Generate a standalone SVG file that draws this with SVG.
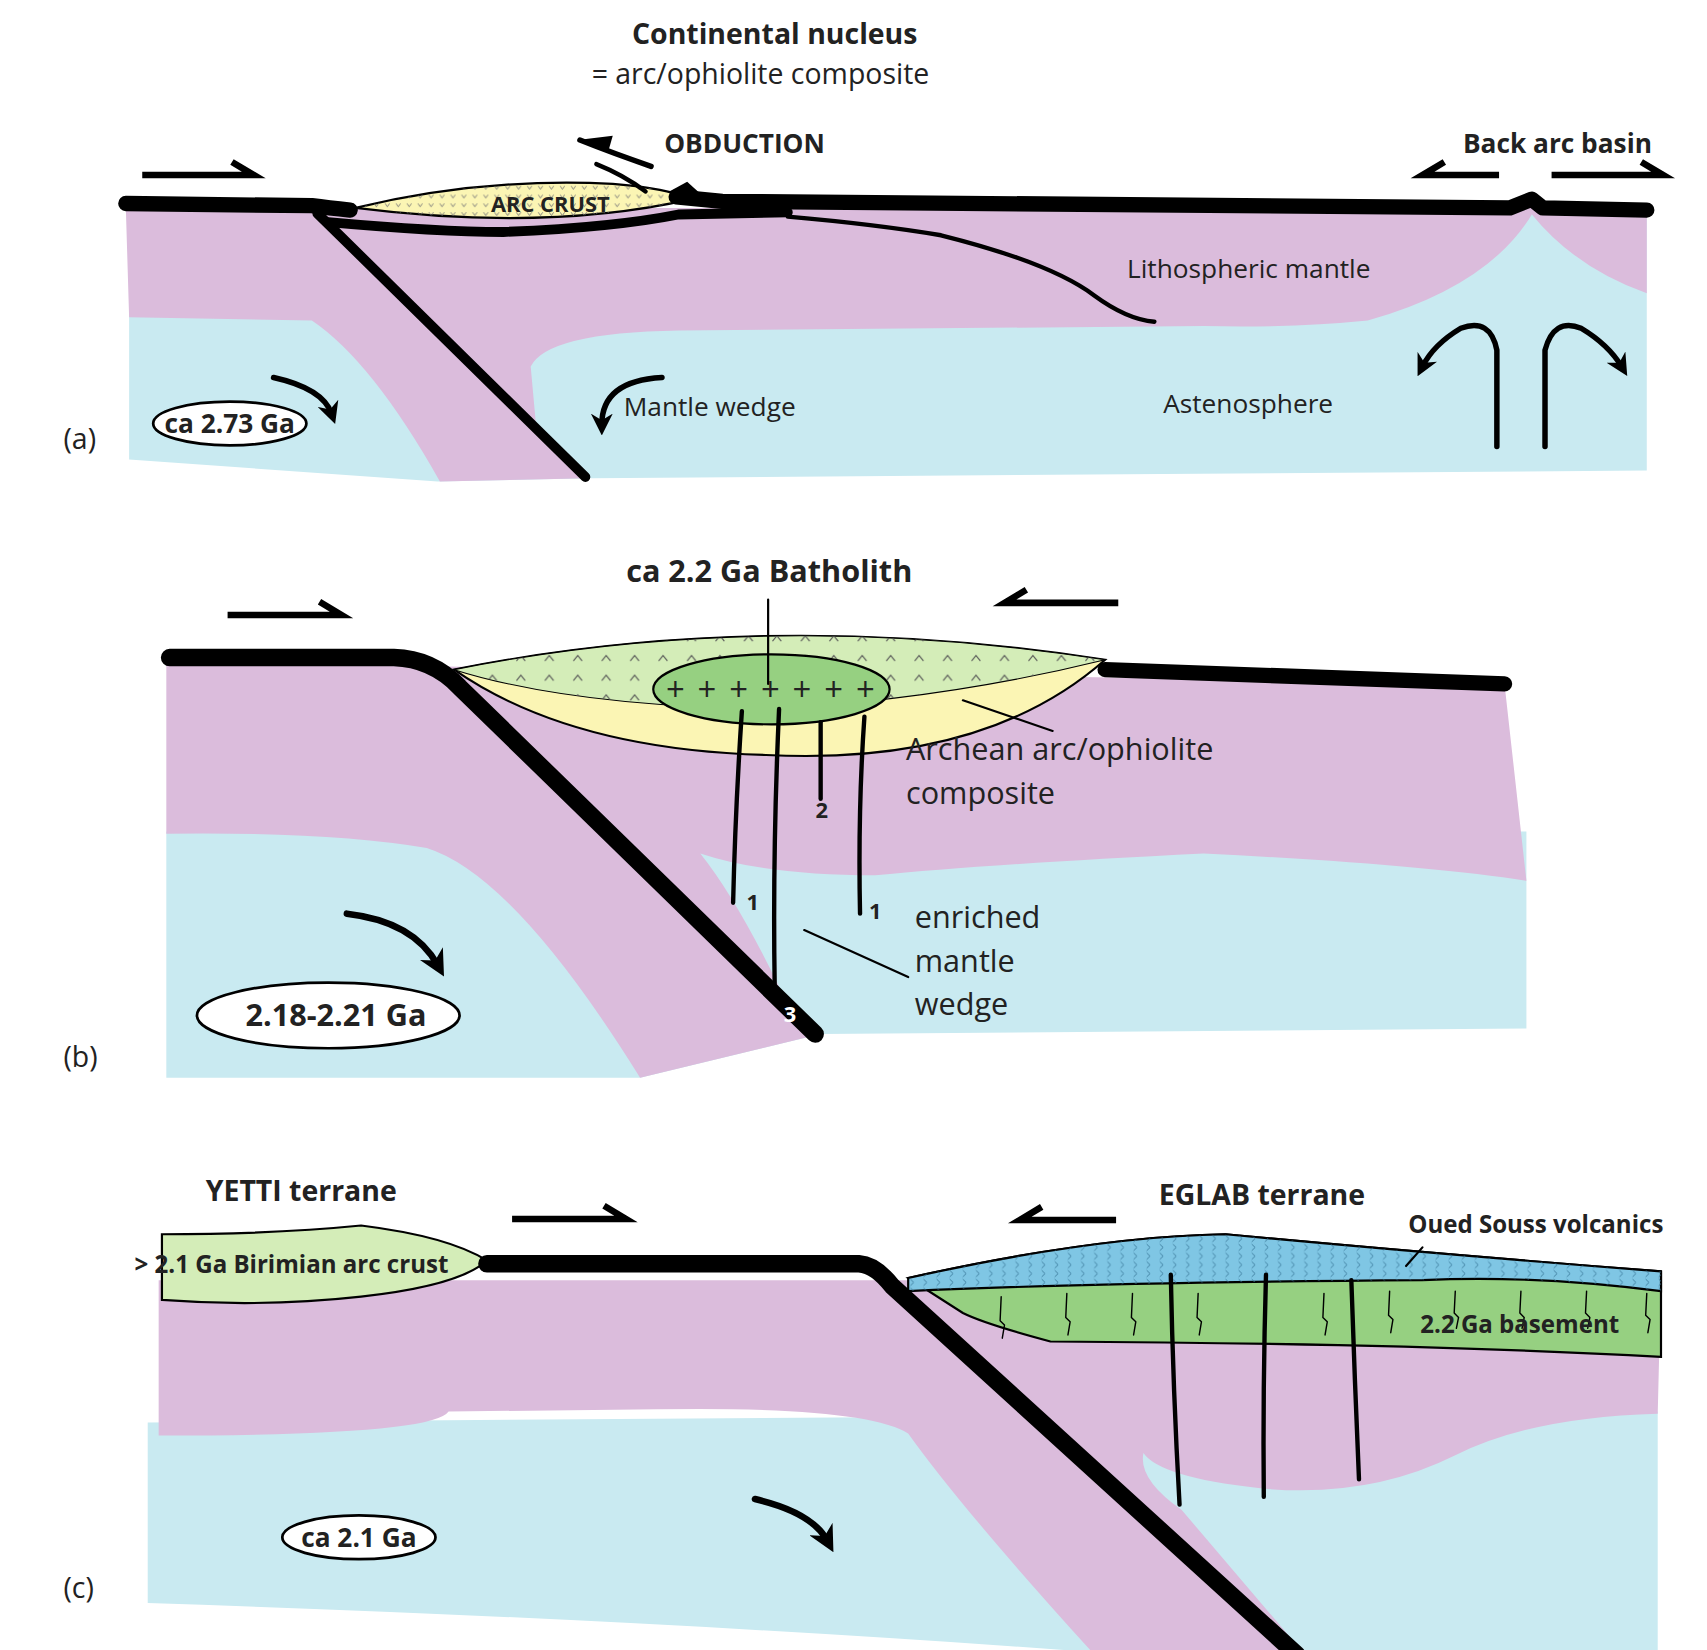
<svg xmlns="http://www.w3.org/2000/svg" width="1707" height="1650" viewBox="0 0 1707 1650">
<style>
.t{font-family:"Open Sans","Liberation Sans",sans-serif;fill:#222}
.b{font-weight:bold}
.pl{fill:none;stroke:#000;stroke-linecap:round;stroke-linejoin:round}
.hp{fill:none;stroke:#000;stroke-width:6;stroke-linejoin:miter;stroke-linecap:butt}
.pink{fill:#dbbcdc}
.blue{fill:#c9eaf1}
</style>
<defs>
<marker id="ah" viewBox="0 0 10 10" refX="5" refY="5" markerWidth="4" markerHeight="4" orient="auto"><path d="M0,0 L10,5 L0,10 L3,5 Z" fill="#000"/></marker>
<pattern id="vv" width="10" height="8" patternUnits="userSpaceOnUse"><path d="M2,2 L4,5 L6,2" fill="none" stroke="#777" stroke-width="0.8"/></pattern>
<pattern id="hat" width="26" height="18" patternUnits="userSpaceOnUse"><path d="M4,10 L8,5 L12,10" fill="none" stroke="#555" stroke-width="1"/></pattern>
<pattern id="vol" width="12" height="8" patternUnits="userSpaceOnUse"><path d="M4,1 L7,4 L4,7" fill="none" stroke="#3a7a9a" stroke-width="0.8"/></pattern>
</defs>
<g transform="scale(1.0942)">
<!-- Panel a -->
<g id="panel-a">
<path class="blue" d="M118,285 L1300,265 L1300,196 L1505,196 L1505,430 L540,437 L400,440 L118,420 Z"/>
<path class="pink" d="M115,190 L1505,190 L1505,268 Q1440,245 1400,196 Q1360,262 1250,293 Q1180,300 1100,298 L620,302 Q500,304 485,335 L490,390 L538,437 L402,440 Q340,330 285,293 L118,290 Z"/>
<path d="M325,190 Q440,162 560,168 Q610,172 632,182 Q500,212 325,190 Z" fill="#fbf5b4" stroke="#000" stroke-width="2"/>
<path d="M325,190 Q440,162 560,168 Q610,172 632,182 Q500,212 325,190 Z" fill="url(#vv)"/>
<path class="pl" d="M115,186 L285,188 Q300,190 320,192" stroke-width="14"/>
<path class="pl" d="M618,180 L660,184 L1380,190 L1400,182 L1410,190 L1505,192" stroke-width="14"/>
<path class="pl" d="M290,195 L535,436" stroke-width="9"/>
<path class="pl" d="M300,203 Q400,212 460,212 Q560,208 620,196 L720,194" stroke-width="9"/>
<path class="pl" d="M720,198 Q800,205 860,215 Q960,240 1000,270 Q1030,292 1055,294" stroke-width="4"/>
<path d="M610,176 L628,166 L650,186 Z" fill="#000"/>
</g>
<g id="labels-a">
<text class="t b" x="708" y="40" font-size="26" text-anchor="middle">Continental nucleus</text>
<text class="t" x="695" y="77" font-size="26" text-anchor="middle">= arc/ophiolite composite</text>
<text class="t b" x="607" y="140" font-size="24">OBDUCTION</text>
<text class="t b" x="1337" y="140" font-size="24">Back arc basin</text>
<text class="t b" x="503" y="194" font-size="20" text-anchor="middle">ARC CRUST</text>
<text class="t" x="1030" y="254" font-size="24">Lithospheric mantle</text>
<text class="t" x="1063" y="377" font-size="24">Astenosphere</text>
<text class="t" x="570" y="380" font-size="24">Mantle wedge</text>
<text class="t" x="58" y="410" font-size="26">(a)</text>
<ellipse cx="210" cy="387" rx="70" ry="20" fill="#fff" stroke="#000" stroke-width="2.5"/>
<text class="t b" x="210" y="396" font-size="24" text-anchor="middle">ca 2.73 Ga</text>
</g>
<!-- Panel b -->
<g id="panel-b">
<path class="blue" d="M152,760 L1395,760 L1395,940 L750,945 L585,985 L152,985 Z"/>
<path class="pink" d="M152,605 L1375,625 L1395,805 Q1300,790 1100,780 Q900,790 800,800 Q700,800 640,780 Q680,830 730,940 L750,945 L585,985 Q470,800 390,775 Q300,760 152,762 Z"/>
<path d="M415,612 Q700,555 1010,603 Q900,700 700,690 Q520,685 415,612 Z" fill="#fbf5b4" stroke="#000" stroke-width="2"/>
<path d="M415,612 Q700,555 1010,603 Q860,640 700,648 Q520,645 415,612 Z" fill="#d4edb8" stroke="#000" stroke-width="1"/>
<path d="M415,612 Q700,555 1010,603 Q860,640 700,648 Q520,645 415,612 Z" fill="url(#hat)"/>
<ellipse cx="705" cy="630" rx="108" ry="32" fill="#96d081" stroke="#000" stroke-width="2"/>
<text class="t" x="705" y="641" font-size="30" text-anchor="middle" letter-spacing="2">+ + + + + + +</text>
<path class="pl" d="M155,601 L360,601 Q395,602 420,628 L745,945" stroke-width="16"/>
<path class="pl" d="M1010,612 L1375,625" stroke-width="14"/>
<path class="pl" d="M678,650 Q672,740 670,825" stroke-width="4"/>
<path class="pl" d="M712,648 Q706,780 708,900" stroke-width="4"/>
<path class="pl" d="M750,660 L750,730" stroke-width="4"/>
<path class="pl" d="M790,655 Q784,740 786,835" stroke-width="4"/>
<path class="pl" d="M702,548 L702,625 M880,640 L962,668 M735,850 L830,893" stroke-width="2"/>
</g>
<g id="labels-b">
<text class="t b" x="703" y="532" font-size="28" text-anchor="middle">ca 2.2 Ga Batholith</text>
<text class="t" x="828" y="695" font-size="28">Archean arc/ophiolite</text>
<text class="t" x="828" y="735" font-size="28">composite</text>
<text class="t" x="836" y="848" font-size="28">enriched</text>
<text class="t" x="836" y="888" font-size="28">mantle</text>
<text class="t" x="836" y="928" font-size="28">wedge</text>
<text class="t b" x="688" y="832" font-size="20" text-anchor="middle">1</text>
<text class="t b" x="800" y="840" font-size="20" text-anchor="middle">1</text>
<text class="t b" x="751" y="748" font-size="20" text-anchor="middle">2</text>
<text class="b" x="722" y="934" font-size="20" text-anchor="middle" fill="#fff" font-family="Open Sans,Liberation Sans,sans-serif">3</text>
<text class="t" x="58" y="975" font-size="26">(b)</text>
<ellipse cx="300" cy="928" rx="120" ry="30" fill="#fff" stroke="#000" stroke-width="2.5"/>
<text class="t b" x="307" y="938" font-size="28" text-anchor="middle">2.18-2.21 Ga</text>
</g>
<!-- Panel c -->
<g id="panel-c">
<path class="blue" d="M135,1300 L1515,1290 L1515,1515 L1195,1515 L1000,1510 Q600,1480 135,1465 Z"/>
<path class="pink" d="M145,1170 L1518,1170 L1515,1292 Q1400,1295 1330,1330 Q1250,1370 1150,1360 Q1060,1350 1045,1328 Q1040,1352 1080,1380 L1195,1515 L1000,1512 Q880,1380 830,1310 Q790,1285 600,1288 L410,1290 Q395,1312 145,1312 Z"/>
<path d="M148,1128 Q250,1128 330,1120 Q410,1130 445,1152 Q420,1175 330,1185 Q240,1195 148,1188 Z" fill="#d4edb8" stroke="#000" stroke-width="2"/>
<path d="M830,1168 Q1000,1130 1120,1128 Q1300,1145 1518,1162 L1518,1240 Q1300,1228 960,1226 Q900,1210 880,1200 Z" fill="#96d081" stroke="#000" stroke-width="2"/>
<path d="M830,1168 Q1000,1130 1120,1128 Q1300,1145 1518,1162 L1518,1180 Q1400,1165 1300,1170 Q1000,1172 830,1180 Z" fill="#7fc6e4" stroke="#000" stroke-width="2"/>
<path d="M830,1168 Q1000,1130 1120,1128 Q1300,1145 1518,1162 L1518,1180 Q1400,1165 1300,1170 Q1000,1172 830,1180 Z" fill="url(#vol)"/>
<g class="pl" stroke-width="1.3">
<path d="M915,1185 l-1,22 4,4 -2,12"/><path d="M975,1182 l-1,22 4,4 -2,12"/><path d="M1035,1182 l-1,22 4,4 -2,12"/><path d="M1095,1182 l-1,22 4,4 -2,12"/><path d="M1210,1182 l-1,22 4,4 -2,12"/><path d="M1270,1180 l-1,22 4,4 -2,12"/><path d="M1330,1180 l-1,20 4,4 -2,10"/><path d="M1390,1180 l-1,20 4,4 -2,10"/><path d="M1450,1180 l-1,20 4,4 -2,10"/><path d="M1505,1182 l-1,20 4,4 -2,12"/>
</g>
<path class="pl" d="M445,1155 L785,1155 Q800,1156 815,1175 L1185,1512" stroke-width="16"/>
<path class="pl" d="M1070,1165 Q1072,1270 1078,1375" stroke-width="4"/>
<path class="pl" d="M1157,1165 Q1154,1270 1155,1368" stroke-width="4"/>
<path class="pl" d="M1235,1170 Q1238,1260 1242,1352" stroke-width="4"/>
<path class="pl" d="M1300,1140 L1285,1157" stroke-width="2"/>
</g>
<g id="labels-c">
<text class="t b" x="188" y="1098" font-size="26">YETTI  terrane</text>
<text class="t b" x="1059" y="1101" font-size="26">EGLAB  terrane</text>
<text class="t b" x="1287" y="1127" font-size="22">Oued Souss volcanics</text>
<text class="t b" x="1298" y="1218" font-size="22">2.2 Ga  basement</text>
<text class="t b" x="123" y="1163" font-size="22">&gt; 2.1 Ga Birimian arc crust</text>
<text class="t" x="58" y="1460" font-size="26">(c)</text>
<ellipse cx="328" cy="1405" rx="70" ry="20" fill="#fff" stroke="#000" stroke-width="2.5"/>
<text class="t b" x="328" y="1414" font-size="24" text-anchor="middle">ca 2.1 Ga</text>
</g>
<!-- arrows -->
<g id="connectors">
<path class="hp" d="M130,160 H232 L212,148"/>
<path class="hp" d="M1370,160 H1300 L1320,148"/>
<path class="hp" d="M1418,160 H1520 L1500,148"/>
<path class="hp" d="M208,562 H312 L292,550"/>
<path class="hp" d="M1022,551 H918 L938,539"/>
<path class="hp" d="M468,1114 H572 L552,1102"/>
<path class="hp" d="M1020,1115 H932 L952,1103"/>
<path class="pl" d="M595,152 Q560,140 530,128" stroke-width="5"/>
<path d="M528,128 L560,124 L556,138 Z" fill="#000"/>
<path class="pl" d="M545,150 Q570,160 590,175" stroke-width="4"/>
<path class="pl" d="M1368,408 L1368,320 Q1362,290 1335,300 Q1310,315 1300,335" stroke-width="5" marker-end="url(#ah)"/>
<path class="pl" d="M1412,408 L1412,320 Q1420,290 1445,300 Q1470,315 1482,335" stroke-width="5" marker-end="url(#ah)"/>
<path class="pl" d="M250,345 Q295,355 303,378" stroke-width="5" marker-end="url(#ah)"/>
<path class="pl" d="M605,345 Q550,348 550,388" stroke-width="5" marker-end="url(#ah)"/>
<path class="pl" d="M317,835 Q378,842 400,882" stroke-width="6" marker-end="url(#ah)"/>
<path class="pl" d="M690,1370 Q742,1382 756,1408" stroke-width="6" marker-end="url(#ah)"/>
</g>
</g>
</svg>
